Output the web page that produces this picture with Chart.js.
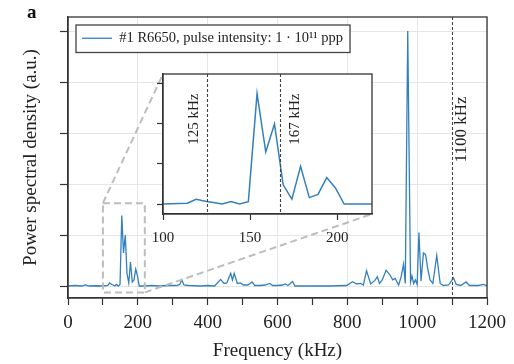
<!DOCTYPE html>
<html><head><meta charset="utf-8">
<script src="https://cdn.jsdelivr.net/npm/chart.js@4/dist/chart.umd.min.js"></script>
<style>
html,body{margin:0;padding:0;background:#fff;}
#wrap{position:relative;width:514px;height:364px;overflow:hidden;}
#main{position:absolute;left:0;top:0;}
#inset{position:absolute;left:120px;top:66px;}
</style></head><body>
<div id="wrap"><canvas id="main" width="514" height="364"></canvas><canvas id="inset" width="262" height="180"></canvas></div>
<script>
// ---- data ----
const freqKHz = [0,20,40,50,60,80,100,114,119,125,129,134,139,144,149,154,159,164,169,174,179,184,189,194,199,204,220,240,260,290,310,320,326,332,345,380,400,420,437,447,455,466,471,476,485,494,502,515,527,535,550,564,578,586,600,615,622,630,643,650,700,750,798,815,827,838,846,855,867,879,886,892,900,911,922,930,937,947,954,961,966,973,981,985,990,995,1000,1005,1011,1018,1024,1030,1037,1045,1056,1066,1075,1090,1104,1112,1125,1140,1150,1175,1190,1200];
const psd     = [0,0.01,0,0.02,0,0.005,0,0.01,0.06,0.03,0.02,0,0.03,0,0.03,1.38,0.65,1.0,0.24,0.06,0.47,0.08,0.12,0.33,0.2,0,0,0.01,0,0.01,0.01,0.03,0.12,0.02,0.01,0,0.01,0,0.13,0.05,0.06,0.25,0.12,0.25,0.05,0.06,0.02,0.02,0.08,0.01,0.01,0.02,0.05,0.01,0.01,0.02,0.04,0.01,0.09,0,0,0,0.01,0.085,0.04,0.05,0.02,0.30,0.04,0.11,0.18,0.05,0.12,0.31,0.22,0.12,0.15,0.02,0.18,0.43,0.05,5.0,0.08,0.2,0.05,0.12,0.03,1.05,0.1,0.65,0.62,0.35,0.12,0.05,0.6,0.05,0.01,0.02,0.16,0.03,0.01,0.08,0.01,0.01,0.03,0];
const mainXTicks = [0,100,200,300,400,500,600,700,800,900,1000,1100,1200];
const mainYTicks = [0,1,2,3,4,5];
const insetXTicks = [100,150,200];
const insetYTicks = [0,0.5,1,1.5];
const mainMarkers = [1100];
const insetMarkers = [125,167];
const insetXRange = [100,220];
const insetYRange = [-0.125,1.625];
const mainXRange = [0,1200];
const mainYRange = [-0.235,5.275];
const seriesLabel = '#1 R6650, pulse intensity: 1 · 10¹¹ ppp';
const xTitle = 'Frequency (kHz)';
const yTitle = 'Power spectral density (a.u.)';
const panelLetter = 'a';

// ---- styles ----
const SERIF = "'Liberation Serif','DejaVu Serif',serif";
const LINE = '#3380bd';
const AX = '#333333';
const GRID = '#e6e6e6';
const points = freqKHz.map((f,i)=>({x:f,y:psd[i]}));

function vline(chart, value, label, side, gap, labelVal, fontSize){
  const {ctx, chartArea:a, scales:{x,y}} = chart;
  const px = Math.round(x.getPixelForValue(value))+0.5;
  ctx.save();
  ctx.strokeStyle = '#444'; ctx.lineWidth = 1.1; ctx.setLineDash([3,2]);
  ctx.beginPath(); ctx.moveTo(px,a.top); ctx.lineTo(px,a.bottom); ctx.stroke();
  ctx.setLineDash([]);
  ctx.translate(px + side*gap, y.getPixelForValue(labelVal));
  ctx.rotate(-Math.PI/2);
  ctx.fillStyle = '#222'; ctx.font = fontSize+'px '+SERIF;
  ctx.textAlign='center'; ctx.textBaseline='middle';
  ctx.fillText(label,0,0);
  ctx.restore();
}
function frame(chart){
  const {ctx, chartArea:a} = chart;
  ctx.save(); ctx.strokeStyle=AX; ctx.lineWidth=1.3;
  ctx.strokeRect(a.left,a.top,a.right-a.left,a.bottom-a.top);
  ctx.restore();
}

// ---- inset chart ----
const insetDecor = {
  id:'insetDecor',
  beforeDraw(chart){
    const {ctx, chartArea:a} = chart;
    ctx.save(); ctx.fillStyle='#fff'; ctx.fillRect(a.left,a.top,a.right-a.left,a.bottom-a.top); ctx.restore();
  },
  afterDatasetsDraw(chart){
    vline(chart, insetMarkers[0], insetMarkers[0]+' kHz', -1, 13, 1.06, 15);
    vline(chart, insetMarkers[1], insetMarkers[1]+' kHz', 1, 14.5, 1.06, 15);
    frame(chart);
  }
};
const insetChart = new Chart(document.getElementById('inset'), {
  type:'line',
  data:{datasets:[{data:points, borderColor:LINE, borderWidth:1.5, pointRadius:0, tension:0, fill:false}]},
  options:{
    responsive:false, animation:false, events:[],
    layout:{padding:{left:0,top:8,right:10,bottom:0}},
    plugins:{legend:{display:false}, tooltip:{enabled:false}},
    scales:{
      x:{type:'linear', min:insetXRange[0], max:insetXRange[1],
         afterBuildTicks:s=>{s.ticks=insetXTicks.map(v=>({value:v}));},
         afterFit:s=>{s.height=32;},
         ticks:{font:{family:SERIF,size:15}, color:'#222', padding:9, maxRotation:0, autoSkip:false},
         grid:{drawOnChartArea:false, drawTicks:true, tickLength:6, tickColor:AX, tickWidth:1.2},
         border:{display:true,color:AX,width:1.3}},
      y:{type:'linear', min:insetYRange[0], max:insetYRange[1],
         afterBuildTicks:s=>{s.ticks=insetYTicks.map(v=>({value:v}));},
         afterFit:s=>{s.width=43;},
         ticks:{display:false},
         grid:{drawOnChartArea:false, drawTicks:true, tickLength:6, tickColor:AX, tickWidth:1.2},
         border:{display:true,color:AX,width:1.3}}
    }
  },
  plugins:[insetDecor]
});

// ---- main chart ----
const insetCanvas = document.getElementById('inset');
const mainDecor = {
  id:'mainDecor',
  afterLayout(chart){
    const lg = chart.legend;
    if(lg){ const t = chart.chartArea.top; lg.top += t; lg.bottom += t; }
  },
  afterDatasetsDraw(chart){
    const {ctx, scales:{x,y}} = chart;
    vline(chart, mainMarkers[0], mainMarkers[0]+' kHz', 1, 9.5, 3.07, 17);
    // zoom rectangle
    const rx0 = x.getPixelForValue(insetXRange[0]), rx1 = x.getPixelForValue(insetXRange[1]);
    const ry0 = y.getPixelForValue(insetYRange[1]), ry1 = y.getPixelForValue(insetYRange[0]);
    const ia = insetChart.chartArea;
    const ox = insetCanvas.offsetLeft, oy = insetCanvas.offsetTop;
    ctx.save();
    ctx.strokeStyle='#bdbdbd'; ctx.lineWidth=2; ctx.setLineDash([7,4]);
    ctx.strokeRect(rx0,ry0,rx1-rx0,ry1-ry0);
    ctx.beginPath(); ctx.moveTo(rx0,ry0); ctx.lineTo(ox+ia.left, oy+ia.top); ctx.stroke();
    ctx.beginPath(); ctx.moveTo(rx1,ry1); ctx.lineTo(ox+ia.right, oy+ia.bottom); ctx.stroke();
    ctx.restore();
    // legend frame
    const hb = chart.legend.legendHitBoxes[0];
    if(hb){
      const L=hb.left-6, T=hb.top-6, W=hb.width+13, H=hb.height+13;
      ctx.save(); ctx.fillStyle='#fff'; ctx.fillRect(L,T,W,H);
      ctx.strokeStyle='#444'; ctx.lineWidth=1.3; ctx.strokeRect(L,T,W,H); ctx.restore();
      chart.legend.draw(chart.chartArea);
    }
    frame(chart);
  },
  afterDraw(chart){
    const ctx = chart.ctx;
    ctx.save(); ctx.fillStyle='#111'; ctx.font='bold 19px '+SERIF; ctx.textBaseline='alphabetic';
    ctx.fillText(panelLetter, 27, 18); ctx.restore();
  }
};
new Chart(document.getElementById('main'), {
  type:'line',
  data:{datasets:[{label:seriesLabel, data:points, borderColor:LINE, backgroundColor:LINE, borderWidth:1.3, pointRadius:0, tension:0, fill:false}]},
  options:{
    responsive:false, animation:false, events:[],
    layout:{padding:{left:0,top:17,right:27,bottom:0}},
    plugins:{
      tooltip:{enabled:false},
      legend:{position:'chartArea', align:'start',
        labels:{usePointStyle:true, pointStyle:'line', pointStyleWidth:30, padding:14, color:'#222',
                font:{family:SERIF,size:14.5}}}
    },
    scales:{
      x:{type:'linear', min:mainXRange[0], max:mainXRange[1],
         afterBuildTicks:s=>{s.ticks=mainXTicks.map(v=>({value:v}));},
         afterFit:s=>{s.height=66;},
         ticks:{font:{family:SERIF,size:19}, color:'#222', padding:7, maxRotation:0, autoSkip:false,
                callback:v=> (v%200===0 ? String(v) : '')},
         grid:{color:c=> (c.tick && c.tick.value%200===0 ? GRID : 'rgba(0,0,0,0)'), lineWidth:1,
               drawTicks:true, tickLength:7, tickColor:AX, tickWidth:1.2},
         border:{display:true,color:AX,width:1.3},
         title:{display:true, text:xTitle, font:{family:SERIF,size:19}, color:'#222', padding:{top:0,bottom:2}}},
      y:{type:'linear', min:mainYRange[0], max:mainYRange[1],
         afterBuildTicks:s=>{s.ticks=mainYTicks.map(v=>({value:v}));},
         afterFit:s=>{s.width=68;},
         ticks:{display:false},
         grid:{color:GRID, lineWidth:1, drawTicks:true, tickLength:8, tickColor:AX, tickWidth:1.2},
         border:{display:true,color:AX,width:1.3},
         title:{display:true, text:yTitle, font:{family:SERIF,size:19}, color:'#222', padding:{top:20,bottom:0}}}
    }
  },
  plugins:[mainDecor]
});
</script>
</body></html>
